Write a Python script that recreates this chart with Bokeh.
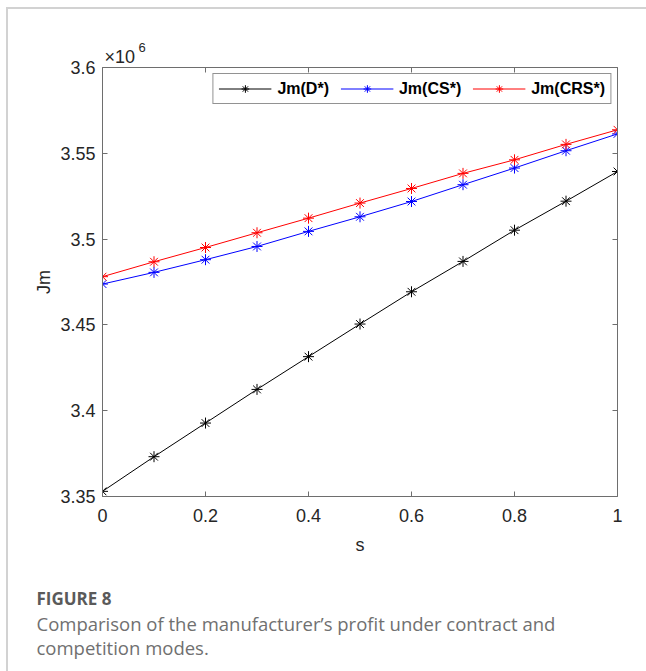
from bokeh.plotting import figure
from bokeh.models import (LinearAxis, FixedTicker, PrintfTickFormatter, Legend, LegendItem,
                          Title, Range1d)
from bokeh.embed import file_html
from bokeh.resources import INLINE

# ---- data (Jm in units of 10^6) ----
s = [0.0, 0.1, 0.2, 0.3, 0.4, 0.5, 0.6, 0.7, 0.8, 0.9, 1.0]
jm_d = [3.3530, 3.3732, 3.3928, 3.4124, 3.4315, 3.4505, 3.4693, 3.4870, 3.5052, 3.5221, 3.5394]
jm_cs = [3.4738, 3.4806, 3.4880, 3.4957, 3.5045, 3.5130, 3.5219, 3.5317, 3.5414, 3.5515, 3.5613]
jm_crs = [3.4781, 3.4868, 3.4951, 3.5037, 3.5122, 3.5210, 3.5295, 3.5383, 3.5462, 3.5552, 3.5637]
x_ticks = [0, 0.2, 0.4, 0.6, 0.8, 1.0]
y_ticks = [3.35, 3.4, 3.45, 3.5, 3.55, 3.6]
series_names = ["Jm(D*)", "Jm(CS*)", "Jm(CRS*)"]
series_colors = ["#000000", "#0000ff", "#ff0000"]

FONT = "Liberation Sans"
CAP_FONT = "Open Sans"
AX = "#262626"
FRAME = "#6e6e6e"

# the card border takes 6px left / 7px top margin + 2px border
# canvas: 94 + 515 + 29 = 638 wide, 58 + 429 + 175 = 662 high
p = figure(width=638, height=662, output_backend="svg", toolbar_location=None,
           x_range=Range1d(0, 1), y_range=Range1d(3.35, 3.6),
           min_border_left=94, min_border_right=29, min_border_top=58, min_border_bottom=175,
           frame_width=515, frame_height=429)
p.title.visible = False
p.styles = {"border-top": "2px solid #d2d2d2", "border-left": "2px solid #d2d2d2",
            "margin-top": "7px", "margin-left": "6px"}
p.background_fill_color = "white"
p.border_fill_color = "white"
p.outline_line_color = None
p.xgrid.visible = False
p.ygrid.visible = False

def style_axis(ax, labels=True):
    ax.axis_line_color = FRAME
    ax.axis_line_width = 1
    ax.major_tick_in = 5
    ax.major_tick_out = 0
    ax.minor_tick_line_color = None
    ax.major_tick_line_color = FRAME
    ax.major_label_text_font = FONT
    ax.major_label_text_font_size = "18px"
    ax.major_label_text_color = AX if labels else None
    ax.axis_label_text_font = FONT
    ax.axis_label_text_font_size = "18px"
    ax.axis_label_text_font_style = "normal"
    ax.axis_label_text_color = AX

xb = p.xaxis[0]
xb.ticker = FixedTicker(ticks=x_ticks)
xb.formatter = PrintfTickFormatter(format="%g")
xb.axis_label = "s"
style_axis(xb)
xb.major_label_standoff = 12
xb.axis_label_standoff = 10

yl = p.yaxis[0]
yl.ticker = FixedTicker(ticks=y_ticks)
yl.formatter = PrintfTickFormatter(format="%g")
yl.axis_label = "Jm"
style_axis(yl)
yl.major_label_standoff = 7
yl.axis_label_standoff = 3

xt = LinearAxis(ticker=FixedTicker(ticks=x_ticks), formatter=PrintfTickFormatter(format="%g"))
style_axis(xt, labels=False)
xt.major_label_text_font_size = "0px"
xt.major_label_standoff = 0
p.add_layout(xt, "above")
yr = LinearAxis(ticker=FixedTicker(ticks=y_ticks), formatter=PrintfTickFormatter(format="%g"))
style_axis(yr, labels=False)
yr.major_label_text_font_size = "0px"
yr.major_label_standoff = 0
p.add_layout(yr, "right")

items = []
for name, ys, col in zip(series_names, [jm_d, jm_cs, jm_crs], series_colors):
    ln = p.line(s, ys, line_color=col, line_width=1)
    sc = p.scatter(s, ys, marker="asterisk", size=11, line_color=col, line_width=1)
    items.append(LegendItem(label=name, renderers=[ln, sc]))

leg = Legend(items=items, orientation="horizontal", location="top_right")
leg.margin = 6
leg.padding = 5
leg.spacing = 11
leg.glyph_width = 53
leg.glyph_height = 19
leg.label_standoff = 6
leg.label_height = 19
leg.label_text_font = FONT
leg.label_text_font_size = "16px"
leg.label_text_font_style = "bold"
leg.label_text_color = "#000000"
leg.border_line_color = AX
leg.border_line_width = 1
leg.background_fill_color = "white"
leg.background_fill_alpha = 1
p.add_layout(leg)

# exponent "x10^6" above the y axis (base, then raised exponent)
p.add_layout(Title(text="\u00d710", align="left", offset=2, standoff=1,
                   text_font=FONT, text_font_size="18px", text_font_style="normal",
                   text_color=AX), "above")
p.add_layout(Title(text="6", align="left", offset=36, standoff=-14,
                   text_font=FONT, text_font_size="13px", text_font_style="normal",
                   text_color=AX), "above")

# caption below the chart (first title is a small white spacer)
p.add_layout(Title(text=".", align="left", offset=0, standoff=19,
                   text_font=FONT, text_font_size="8px", text_color="white"), "below")
p.add_layout(Title(text="FIGURE 8", align="left", offset=-66, standoff=2,
                   text_font=CAP_FONT, text_font_size="17px", text_font_style="bold",
                   text_color="#5a5a5a"), "below")
p.add_layout(Title(text="Comparison of the manufacturer\u2019s profit under contract and",
                   align="left", offset=-66, standoff=-3,
                   text_font=CAP_FONT, text_font_size="18.5px", text_font_style="normal",
                   text_color="#707070"), "below")
p.add_layout(Title(text="competition modes.", align="left", offset=-66, standoff=-3,
                   text_font=CAP_FONT, text_font_size="18.5px", text_font_style="normal",
                   text_color="#707070"), "below")

open("out.html", "w").write(file_html(p, INLINE))
